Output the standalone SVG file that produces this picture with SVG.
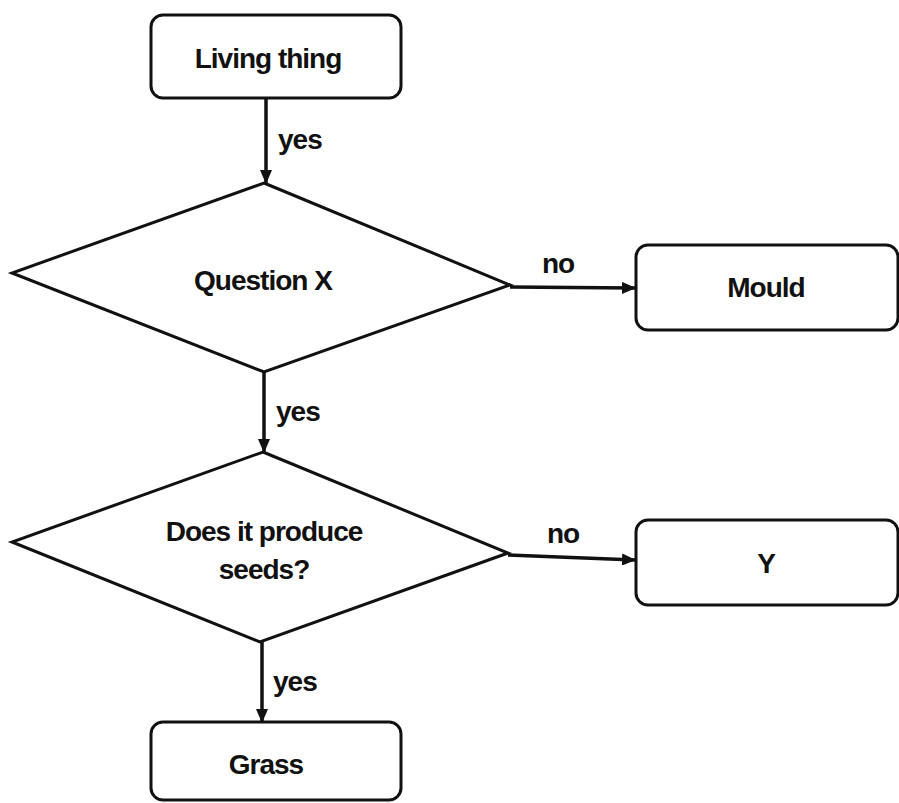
<svg xmlns="http://www.w3.org/2000/svg" width="899" height="803" viewBox="0 0 899 803">
<style>
.box{fill:#fff;stroke:#111;stroke-width:3}
.dia{fill:#fff;stroke:#111;stroke-width:3;stroke-linejoin:miter}
.t{font-family:"Liberation Sans",Arial,sans-serif;font-weight:bold;font-size:28px;fill:#111;letter-spacing:-1px;text-anchor:middle}
.l{font-family:"Liberation Sans",Arial,sans-serif;font-weight:bold;font-size:28px;fill:#111;letter-spacing:-1px}
.c{stroke:#111;stroke-width:3.5;fill:none;marker-end:url(#ah)}
</style>
<defs>
<marker id="ah" markerWidth="14" markerHeight="12" refX="13" refY="6" orient="auto" markerUnits="userSpaceOnUse">
<path d="M0,0 L14,6 L0,12 Z" fill="#111"/>
</marker>
</defs>
<rect width="899" height="803" fill="#fff"/>
<g id="connectors">
<line class="c" x1="266" y1="98" x2="266" y2="183"/>
<line class="c" x1="264" y1="372" x2="264" y2="452"/>
<line class="c" x1="262" y1="642" x2="262" y2="722"/>
<line class="c" x1="510" y1="287" x2="635" y2="288"/>
<line class="c" x1="508" y1="555" x2="635" y2="560"/>
<text class="l" x="278" y="149">yes</text>
<text class="l" x="276" y="421">yes</text>
<text class="l" x="273" y="691">yes</text>
<text class="l" x="542" y="273">no</text>
<text class="l" x="547" y="543">no</text>
</g>
<g id="living">
<rect class="box" x="151" y="15" width="250" height="83" rx="12"/>
<text class="t" x="268" y="68">Living thing</text>
</g>
<g id="questionX">
<polygon class="dia" points="264,183 510,285 264,372 12,273"/>
<text class="t" x="263" y="290">Question X</text>
</g>
<g id="mould">
<rect class="box" x="636" y="245" width="262" height="85" rx="12"/>
<text class="t" x="766" y="297">Mould</text>
</g>
<g id="seeds">
<polygon class="dia" points="263,452 508,553 260,642 12,542"/>
<text class="t" x="264" y="541">Does it produce</text>
<text class="t" x="264" y="579">seeds?</text>
</g>
<g id="Y">
<rect class="box" x="636" y="520" width="262" height="85" rx="12"/>
<text class="t" x="766" y="573">Y</text>
</g>
<g id="grass">
<rect class="box" x="151" y="722" width="250" height="78" rx="12"/>
<text class="t" x="266" y="774">Grass</text>
</g>
</svg>
